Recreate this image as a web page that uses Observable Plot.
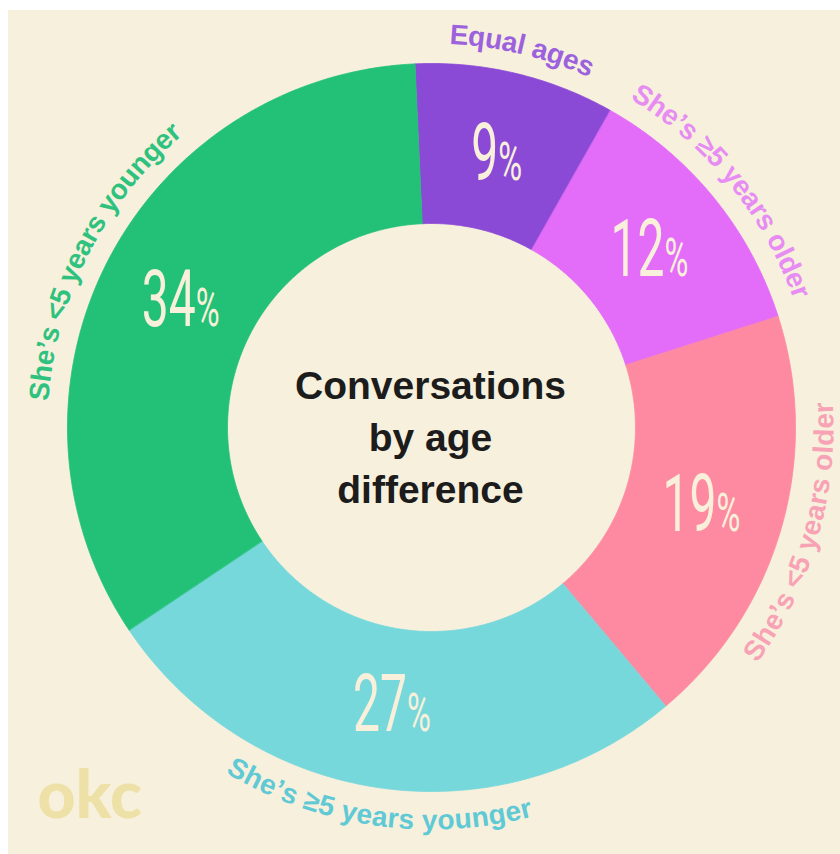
<!DOCTYPE html>
<html><head><meta charset="utf-8">
<script src="https://cdn.jsdelivr.net/npm/d3@7"></script>
<script src="https://cdn.jsdelivr.net/npm/@observablehq/plot@0.6"></script>
<style>
html,body{margin:0;padding:0;background:#ffffff;}
#chart{position:absolute;left:8px;top:10px;width:832px;height:844px;background:#f7f0dc;overflow:hidden;}
</style></head><body><div id="chart"></div>
<script>
// ---- data ----
const categories = ["Equal ages", "She’s ≥5 years older", "She’s <5 years older", "She’s ≥5 years younger", "She’s <5 years younger"];
const shares = [9, 12, 19, 27, 34];
const pctLabels = ["9%", "12%", "19%", "27%", "34%"];
const sliceColors = ["#8b4ad6", "#e36cf8", "#fe8aa1", "#77d8dc", "#22c177"];
const labelColors = ["#9c62de", "#e68cf2", "#f8a2b6", "#5fc9d6", "#2fc27f"];
const titleLines = ["Conversations", "by age", "difference"];
const logoText = "okc";

// ---- layout ----
const W = 832, H = 844, cx = 423, cy = 417;
const R0 = 204, R1 = 364, RL = 393, RP = 281, startDeg = -2.6;
const rad = d => d * Math.PI / 180;
const pt = (r, a) => [r * Math.sin(rad(a)), -r * Math.cos(rad(a))];

const total = d3.sum(shares);
let acc = startDeg;
const slices = categories.map((c, i) => {
  const a0 = acc; acc += shares[i] / total * 360;
  return {c, i, a0, a1: acc, mid: (a0 + acc) / 2};
});

const ringPts = [];
for (const s of slices) {
  const n = Math.ceil((s.a1 - s.a0) / 0.5);
  for (let k = 0; k <= n; k++) { const a = s.a0 + (s.a1 - s.a0) * k / n; const [x, y] = pt(R1, a); ringPts.push({c: s.c, x, y}); }
  for (let k = n; k >= 0; k--) { const a = s.a0 + (s.a1 - s.a0) * k / n; const [x, y] = pt(R0, a); ringPts.push({c: s.c, x, y}); }
}

const pctData = slices.map(s => { const [x, y] = pt(RP, s.mid); return {x, y, t: pctLabels[s.i]}; });

const canvas = document.createElement("canvas");
const ctx = canvas.getContext("2d");
const labelFont = "'Liberation Sans', Arial, sans-serif";
ctx.font = "bold 28px " + labelFont;
function charsFor(s) {
  const chars = Array.from(categories[s.i]);
  const ws = chars.map(ch => ctx.measureText(ch).width);
  const tw = d3.sum(ws);
  const flip = s.mid > 90 && s.mid < 270;
  let cum = 0;
  return chars.map((ch, k) => {
    const off = (cum + ws[k] / 2 - tw / 2) / RL * 180 / Math.PI;
    cum += ws[k];
    const a = flip ? s.mid - off : s.mid + off;
    const [x, y] = pt(RL, a);
    return {ch, x, y, rot: flip ? a - 180 : a};
  });
}

const labelMarks = slices.map(s => Plot.text(charsFor(s), {
  x: "x", y: "y", text: "ch", rotate: "rot",
  fill: labelColors[s.i], fontSize: 28, fontWeight: 700, fontFamily: labelFont,
  textAnchor: "middle", lineAnchor: "middle"
}));

const plot = Plot.plot({
  width: W, height: H, margin: 0,
  style: {background: "transparent", overflow: "visible"},
  x: {type: "linear", domain: [-cx, W - cx], range: [0, W], axis: null},
  y: {type: "linear", domain: [-cy, H - cy], range: [0, H], axis: null},
  color: {domain: categories, range: sliceColors},
  marks: [
    Plot.text([logoText], {frameAnchor: "bottom-left", dx: 29, dy: -58, text: d => d, textAnchor: "start",
      fill: "#eee1a8", fontSize: 66, fontWeight: 900, fontFamily: "Lato, sans-serif", lineAnchor: "middle"}),
    Plot.line(ringPts, {x: "x", y: "y", z: "c", fill: "c", stroke: "c", strokeWidth: 0.8, curve: "linear-closed"}),
    Plot.text(pctData, {x: "x", y: "y", text: "t", fill: "#f8f0da", fontSize: 80, fontWeight: 400,
      fontFamily: "Roboto, sans-serif", textAnchor: "middle", lineAnchor: "middle"}),
    Plot.text([titleLines.join("\n")], {frameAnchor: "middle", dx: 6, dy: 2, text: d => d,
      fill: "#1c1c1c", fontSize: 39, fontWeight: 700, fontFamily: labelFont, lineHeight: 1.33, textAnchor: "middle"}),
    ...labelMarks
  ]
});

// condensed numerals with smaller percent sign
plot.querySelectorAll("text").forEach(t => {
  const s = t.textContent;
  if (!/^\d+%$/.test(s)) return;
  const tr = t.getAttribute("transform");
  t.textContent = s.slice(0, -1);
  const ts = document.createElementNS("http://www.w3.org/2000/svg", "tspan");
  ts.setAttribute("font-size", "68%");
  ts.textContent = "%";
  t.appendChild(ts);
  if (tr) t.setAttribute("transform", tr + " scale(0.6,1)");
  else {
    const x = +t.getAttribute("x") || 0, y = +t.getAttribute("y") || 0;
    t.removeAttribute("x"); t.removeAttribute("y");
    t.setAttribute("transform", `translate(${x},${y}) scale(0.6,1)`);
  }
});

document.getElementById("chart").appendChild(plot);
</script></body></html>
